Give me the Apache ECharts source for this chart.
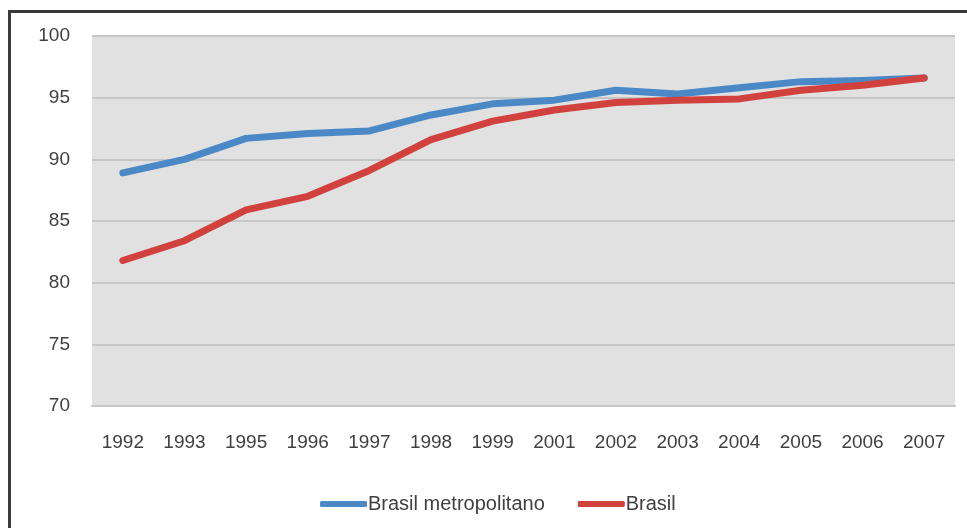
<!DOCTYPE html>
<html>
<head>
<meta charset="utf-8">
<script src="https://cdn.jsdelivr.net/npm/echarts@6/dist/echarts.min.js"></script>
<style>
  html, body { margin: 0; padding: 0; background: #ffffff; }
  #wrap { position: relative; width: 967px; height: 528px; overflow: hidden; }
  #frame { position: absolute; left: 8px; top: 10px; width: 980px; height: 540px;
           border-left: 3px solid #3a3a3a; border-top: 3px solid #3a3a3a; box-sizing: border-box; }
  #chart { position: absolute; left: 0; top: 0; width: 967px; height: 528px; }
</style>
</head>
<body>
<div id="wrap">
  <div id="frame"></div>
  <div id="chart"></div>
</div>
<script>
// Years on the horizontal axis (1994 and 2000 are absent from the survey)
var years = ['1992', '1993', '1995', '1996', '1997', '1998', '1999', '2001', '2002', '2003', '2004', '2005', '2006', '2007'];

// Rates per year, in percent
var metropolitano = [88.9, 90.0, 91.7, 92.1, 92.3, 93.6, 94.5, 94.8, 95.6, 95.3, 95.8, 96.3, 96.4, 96.6];
var brasil        = [81.8, 83.4, 85.9, 87.0, 89.1, 91.6, 93.1, 94.0, 94.6, 94.8, 94.9, 95.6, 96.0, 96.6];

var seriesNames = ['Brasil metropolitano', 'Brasil'];
var seriesColors = ['#4a89c6', '#d1423f'];

var fontFamily = "'Liberation Sans', Arial, sans-serif";

var chart = echarts.init(document.getElementById('chart'), null, { renderer: 'canvas' });

chart.setOption({
  animation: false,
  backgroundColor: 'transparent',
  grid: {
    left: 92, right: 12, top: 36, bottom: 122,
    show: true, backgroundColor: '#e1e1e1', borderWidth: 0
  },
  legend: {
    left: 315, top: 489,
    itemWidth: 47, itemHeight: 6, itemGap: 33,
    icon: 'roundRect',
    textStyle: { fontFamily: fontFamily, fontSize: 20, color: '#404040', padding: [0, 0, 0, -4] },
    data: seriesNames
  },
  xAxis: {
    type: 'category',
    data: years,
    boundaryGap: true,
    axisLine: { show: true, lineStyle: { color: '#c6c6c6', width: 2 } },
    axisTick: { show: false },
    axisLabel: { fontFamily: fontFamily, fontSize: 19, color: '#404040', margin: 27 }
  },
  yAxis: {
    type: 'value',
    min: 70, max: 100, interval: 5,
    axisLine: { show: false },
    axisTick: { show: false },
    axisLabel: { fontFamily: fontFamily, fontSize: 19, color: '#404040', margin: 22 },
    splitLine: { show: true, lineStyle: { color: '#c6c6c6', width: 2 } }
  },
  series: [
    {
      name: seriesNames[0], type: 'line', data: metropolitano,
      symbol: 'none', color: seriesColors[0],
      lineStyle: { width: 7, color: seriesColors[0], cap: 'round', join: 'round' }
    },
    {
      name: seriesNames[1], type: 'line', data: brasil,
      symbol: 'none', color: seriesColors[1],
      lineStyle: { width: 7, color: seriesColors[1], cap: 'round', join: 'round' }
    }
  ]
});
</script>
</body>
</html>
